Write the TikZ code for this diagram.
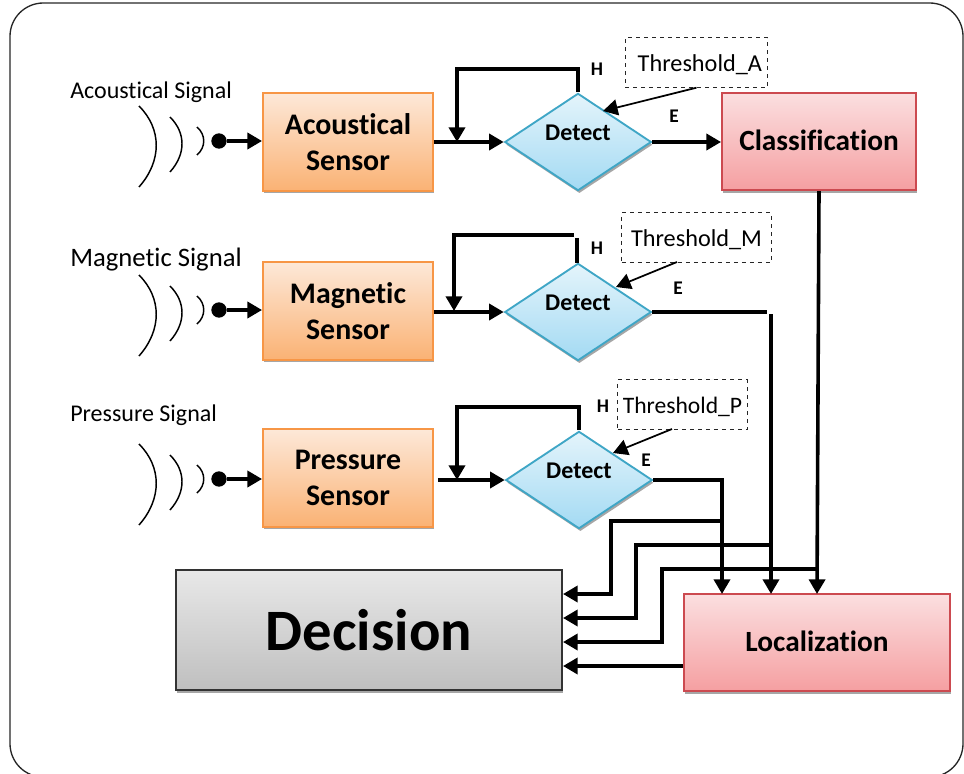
\documentclass[tikz,border=0pt]{standalone}
\usepackage{fontspec}
\setmainfont[Ligatures=NoCommon]{Carlito}
\usetikzlibrary{shapes.geometric,shadows,arrows.meta}
\definecolor{orangeline}{HTML}{F79646}
\definecolor{orangetop}{HTML}{FDE8D8}
\definecolor{orangebot}{HTML}{FAB274}
\definecolor{redline}{HTML}{CC4A50}
\definecolor{redtop}{HTML}{FBDFE0}
\definecolor{redbot}{HTML}{F59FA1}
\definecolor{blueline}{HTML}{3FA6C6}
\definecolor{bluetop}{HTML}{E4F4FB}
\definecolor{bluebot}{HTML}{A3DAF3}
\tikzset{
  boxshadow/.style={drop shadow={shadow xshift=1pt,shadow yshift=-2pt,fill=black,opacity=.35}},
  sensorbox/.style={draw=orangeline,line width=1.4pt,top color=orangetop,bottom color=orangebot,boxshadow,
    minimum width=127.5pt,minimum height=73pt,inner sep=0pt,align=center,font=\fontsize{22.4}{27}\selectfont\bfseries},
  resultbox/.style={draw=redline,line width=1.4pt,top color=redtop,bottom color=redbot,boxshadow,
    inner sep=0pt,text depth=2.5pt,font=\fontsize{22}{26}\selectfont\bfseries},
  decisionbox/.style={draw=black!80,line width=1.4pt,top color=black!9,bottom color=black!25,boxshadow,
    inner sep=0pt,font=\fontsize{44}{52}\selectfont\bfseries},
  detectbox/.style={diamond,draw=blueline,line width=1.4pt,top color=bluetop,bottom color=bluebot,boxshadow,
    minimum width=110pt,minimum height=73pt,inner sep=0pt,text height=9pt,text depth=11pt,font=\fontsize{18}{21}\selectfont\bfseries},
  threshbox/.style={draw=black!85,dashed,line width=.8pt,inner sep=0pt,text height=17pt,text depth=3.5pt,font=\fontsize{18.2}{22}\selectfont},
  siglabel/.style={anchor=west,inner sep=0pt,font=\fontsize{18}{22}\selectfont},
  letter/.style={inner sep=0pt,font=\fontsize{14.5}{17}\selectfont\bfseries},
  wave/.style={line width=1.1pt},
  wire/.style={line width=2.7pt},
  flow/.style={line width=2.7pt,-{Triangle[length=11pt,width=12pt]}},
  hint/.style={line width=1.3pt,-{Triangle[length=11pt,width=12pt]}},
  sigdot/.style={circle,fill=black,inner sep=0pt,minimum size=11.5pt}
}
\begin{document}
\begin{tikzpicture}[x=.75pt,y=-.75pt]
  \useasboundingbox (0,0) rectangle (964,774);
  % frame, runs off the page at the bottom
  \begin{scope}
    \clip (0,0) rectangle (964,774);
    \draw[line width=1pt,rounded corners=25pt,black!85] (10,3) rectangle (963,777);
  \end{scope}
  % blocks
  \node[sensorbox] (acSensor) at (348,142) {Acoustical\\Sensor};
  \node[sensorbox] (magSensor) at (348,311) {Magnetic\\Sensor};
  \node[sensorbox] (presSensor) at (348,478) {Pressure\\Sensor};
  \node[detectbox] (acDetect) at (578,142) {Detect};
  \node[detectbox] (magDetect) at (578,312) {Detect};
  \node[detectbox] (presDetect) at (579,480) {Detect};
  \node[resultbox,minimum width=145.5pt,minimum height=73pt] (classif) at (819,141.5) {Classification};
  \node[resultbox,minimum width=199.5pt,minimum height=73pt] (local) at (817,642.5) {Localization};
  \node[decisionbox,minimum width=289.5pt,minimum height=90pt] (decis) at (369,630) {Decision};
  \node[threshbox,minimum width=107pt,minimum height=37pt] (threshA) at (696.5,62.5) {\hspace{5pt}Threshold\_A};
  \node[threshbox,minimum width=112pt,minimum height=37pt] (threshM) at (696.5,237.5) {Threshold\_M};
  \node[threshbox,minimum width=97pt,minimum height=37pt,font=\fontsize{17.7}{22}\selectfont] (threshP) at (682.5,404.5) {Threshold\_P\hspace{3pt}};
  % labels
  \node[siglabel] (acLabel) at (70,92) {Acoustical Signal};
  \node[siglabel,font=\fontsize{20}{24}\selectfont] (magLabel) at (70,260) {Magnetic Signal};
  \node[siglabel] (presLabel) at (70,415) {Pressure Signal};
  \node[letter] (acH) at (597,69) {H};
  \node[letter] (acE) at (674,116) {E};
  \node[letter] (magH) at (597,248) {H};
  \node[letter] (magE) at (678,288) {E};
  \node[letter] (presH) at (603,406) {H};
  \node[letter] (presE) at (646,460) {E};
  % waves and inputs
  \foreach \nm/\y in {ac/141,mag/310,pres/479}{
    \draw[wave] (139,\y-35) .. controls (162,\y-12) and (162,\y+20) .. (139,\y+46);
    \draw[wave] (170,\y-24) .. controls (186,\y-8) and (186,\y+13) .. (170,\y+31);
    \draw[wave] (197,\y-14) .. controls (206,\y-6) and (206,\y+6) .. (197,\y+14);
    \node[sigdot] (\nm Dot) at (219,\y) {};
  }
  \draw[flow] (acDot) -- (acDot -| acSensor.west);
  \draw[flow] (magDot) -- (magDot -| magSensor.west);
  \draw[flow] (presDot) -- (presDot -| presSensor.west);
  \draw[flow] (acSensor.east |- acDetect.west) -- (acDetect.west);
  \draw[flow] (magSensor.east |- magDetect.west) -- (magDetect.west);
  \draw[flow] ([xshift=3pt]presSensor.east |- presDetect.west) -- (presDetect.west);
  % feedback
  \draw[flow] (acDetect.north) |- (457,69) -- (457,142);
  \draw[wire] (577,263) -- (577,238);
  \draw[flow] (574,235) -- (454,235) -- (454,311);
  \draw[flow] (presDetect.north) |- (457,407) -- (457,480);
  % thresholds
  \draw[hint] (threshA.south) -- (603,111);
  \draw[hint] (677,262) -- (616,287);
  \draw[hint] (672,429) -- (613,453);
  % outputs
  \draw[flow] (acDetect.east) -- (acDetect.east -| classif.west);
  \draw[wire] (magDetect.east) -- (767,312);
  \draw[flow] (771,314) -- (771,594);
  \draw[flow] (presDetect.east) -- (722,480) -- (722,594);
  \draw[flow] (classif.south) -- (817,594);
  % to decision
  \draw[flow] (722,521) -- (611,521) -- (611,594) -- (563,594);
  \draw[flow] (771,545) -- (636,545) -- (636,618) -- (563,618);
  \draw[flow] (817,569) -- (662,569) -- (662,642) -- (563,642);
  \draw[flow] (local.west |- 0,666) -- (563,666);
\end{tikzpicture}
\end{document}
